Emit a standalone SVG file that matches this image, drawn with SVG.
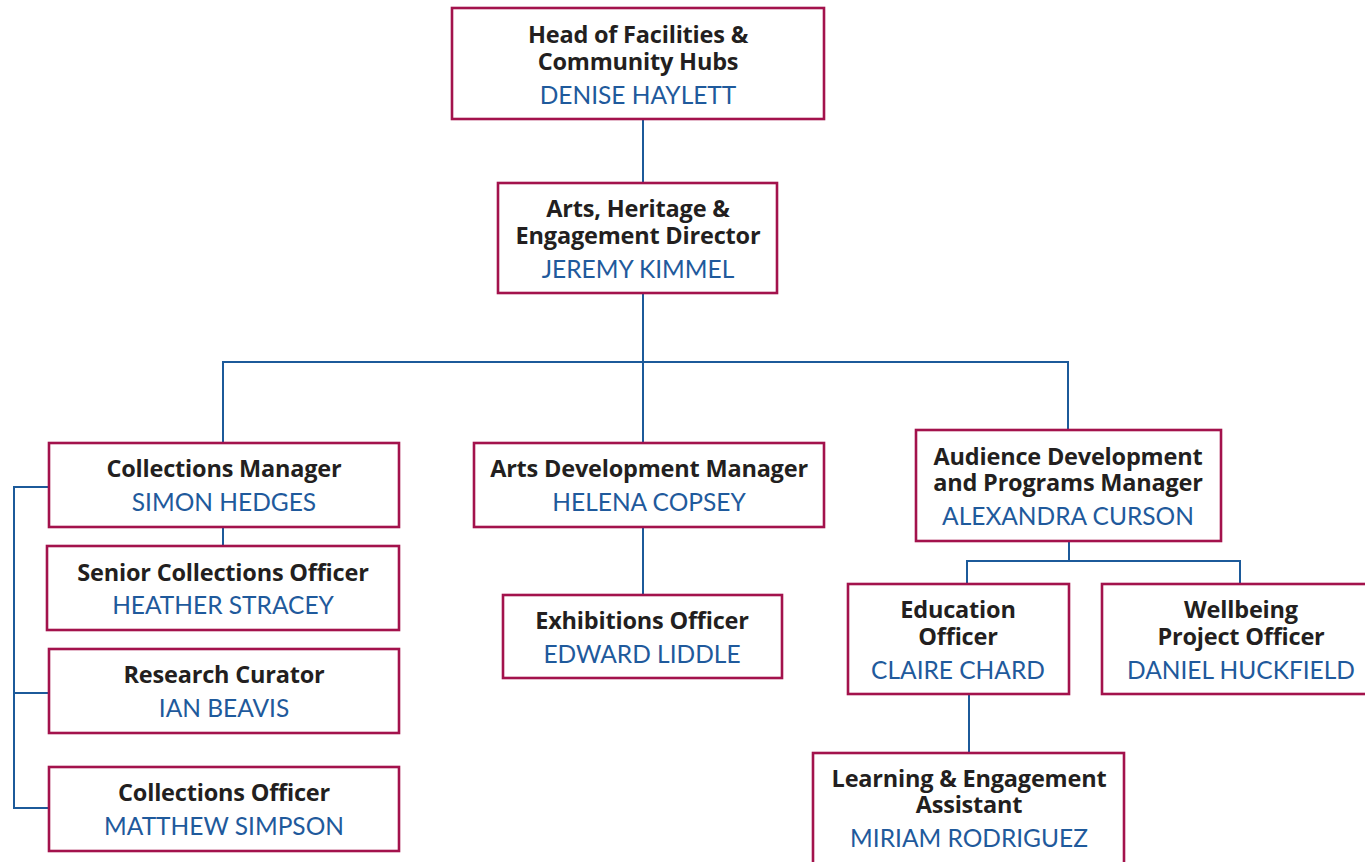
<svg xmlns="http://www.w3.org/2000/svg" width="1365" height="862" viewBox="0 0 1365 862">
<style>
.box{fill:#fff;stroke:#a3124c;stroke-width:2.6}
.t{font-family:"Open Sans","Liberation Sans",sans-serif;font-weight:700;font-size:23.5px;fill:#231f20;text-anchor:middle;letter-spacing:-0.2px}
.n{font-family:Lato,"Open Sans","Liberation Sans",sans-serif;font-weight:400;font-size:24.5px;fill:#1f5a9c;text-anchor:middle}
.c{fill:none;stroke:#1c5a9a;stroke-width:2}
</style>
<rect width="1365" height="862" fill="#fff"/>
<g id="connectors">
<path class="c" d="M643 119V183M643 293V443M223 443V362H1068V430M223 527V546M49 487H14V808H49M14 693H49M643 527V595M1069 541V561M967 584V561H1240V584M969 694V753"/>
</g>
<g id="n1"><rect class="box" x="452" y="8" width="372" height="111"/>
<text class="t" x="638" y="43">Head of Facilities &amp;</text><text class="t" x="638" y="70">Community Hubs</text><text class="n" x="638" y="104">DENISE HAYLETT</text></g>
<g id="n2"><rect class="box" x="498" y="183" width="279" height="110"/>
<text class="t" x="638" y="217">Arts, Heritage &amp;</text><text class="t" x="638" y="244">Engagement Director</text><text class="n" x="638" y="278">JEREMY KIMMEL</text></g>
<g id="n3"><rect class="box" x="49" y="443" width="350" height="84"/>
<text class="t" x="224" y="477">Collections Manager</text><text class="n" x="224" y="511">SIMON HEDGES</text></g>
<g id="n4"><rect class="box" x="47" y="546" width="352" height="84"/>
<text class="t" x="223" y="581">Senior Collections Officer</text><text class="n" x="223" y="614">HEATHER STRACEY</text></g>
<g id="n5"><rect class="box" x="49" y="649" width="350" height="84"/>
<text class="t" x="224" y="683">Research Curator</text><text class="n" x="224" y="717">IAN BEAVIS</text></g>
<g id="n6"><rect class="box" x="49" y="767" width="350" height="84"/>
<text class="t" x="224" y="801">Collections Officer</text><text class="n" x="224" y="835">MATTHEW SIMPSON</text></g>
<g id="n7"><rect class="box" x="474" y="443" width="350" height="84"/>
<text class="t" x="649" y="477">Arts Development Manager</text><text class="n" x="649" y="511">HELENA COPSEY</text></g>
<g id="n8"><rect class="box" x="503" y="595" width="279" height="83"/>
<text class="t" x="642" y="629">Exhibitions Officer</text><text class="n" x="642" y="663">EDWARD LIDDLE</text></g>
<g id="n9"><rect class="box" x="916" y="430" width="305" height="111"/>
<text class="t" x="1068" y="465">Audience Development</text><text class="t" x="1068" y="491">and Programs Manager</text><text class="n" x="1068" y="525">ALEXANDRA CURSON</text></g>
<g id="n10"><rect class="box" x="848" y="584" width="221" height="110"/>
<text class="t" x="958" y="618">Education</text><text class="t" x="958" y="645">Officer</text><text class="n" x="958" y="679">CLAIRE CHARD</text></g>
<g id="n11"><rect class="box" x="1102" y="584" width="270" height="110"/>
<text class="t" x="1241" y="618">Wellbeing</text><text class="t" x="1241" y="645">Project Officer</text><text class="n" x="1241" y="679">DANIEL HUCKFIELD</text></g>
<g id="n12"><rect class="box" x="813" y="753" width="311" height="120"/>
<text class="t" x="969" y="787">Learning &amp; Engagement</text><text class="t" x="969" y="813">Assistant</text><text class="n" x="969" y="847">MIRIAM RODRIGUEZ</text></g>
</svg>
